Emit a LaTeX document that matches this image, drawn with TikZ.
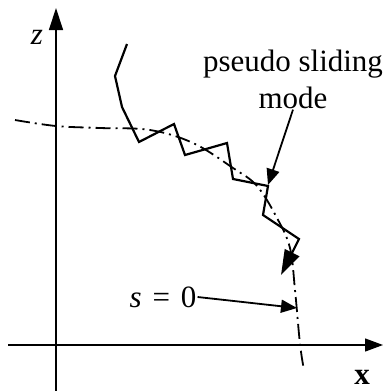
\documentclass[tikz,border=0pt]{standalone}
\usepackage{fontspec}
\setmainfont{Liberation Serif}
\usetikzlibrary{arrows.meta}

\begin{document}
\begin{tikzpicture}[x=1pt,y=-1pt,
  lbl/.style={font=\fontsize{31}{37}\selectfont,inner sep=1pt},
  axis/.style={line width=1.3pt},
  surf/.style={line width=1.8pt,dash pattern=on 15pt off 5pt on 2pt off 5pt},
  traj/.style={line width=2.2pt,line join=miter},
  pointer/.style={line width=1.8pt,-{Triangle[length=16pt,width=13pt]}}]
  \useasboundingbox (0,0) rectangle (383,391);
  % axes
  \draw[axis,-{Triangle[length=22pt,width=14pt]}] (56,391) -- (56,8);
  \draw[axis,-{Triangle[length=18pt,width=13pt]}] (8,345) -- (383,345);
  \node[lbl] (zlab) at (37,37) {\textit{z}};
  \node[lbl] (xlab) at (362,377) {\textbf{x}};
  %
  % sliding surface s=0
  \draw[surf] plot[smooth,tension=.6] coordinates {(15,120) (56,126) (100,128)
    (150,130) (193,143) (233,168) (257,186) (277,218) (290,248) (295,290)
    (300,344) (304,370)};
  %
  % trajectory
  \draw[traj,-{Triangle[length=25pt,width=16pt]}] (127,44) -- (115,76) -- (122,107)
    -- (139,142) -- (174,124) -- (185,155) -- (227,143) -- (233,179)
    -- (268,186) -- (263,215) -- (299,239) -- (281,275);
  %
  % labels
  \coordinate (corner) at (268,185);
  \coordinate (onsurf) at (297,308);
  \node[lbl,align=center] (psm) at (293,79) {pseudo sliding\\mode};
  \draw[pointer] (psm.south) -- (corner);
  \node[lbl] (s0) at (163,297) {\textit{s}\hspace{.35em}=\hspace{.35em}0};
  \draw[pointer] (s0.east) -- (onsurf);
\end{tikzpicture}
\end{document}
